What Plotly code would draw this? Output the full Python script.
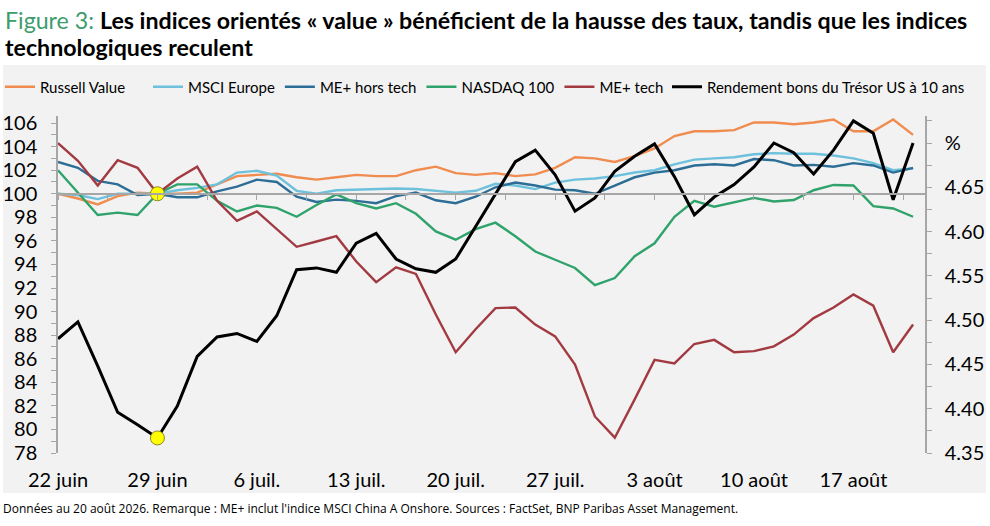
import plotly.graph_objects as go

# business days shown on the chart
dates = [
    "2026-06-22", "2026-06-23", "2026-06-24", "2026-06-25", "2026-06-26",
    "2026-06-29", "2026-06-30", "2026-07-01", "2026-07-02", "2026-07-03",
    "2026-07-06", "2026-07-07", "2026-07-08", "2026-07-09", "2026-07-10",
    "2026-07-13", "2026-07-14", "2026-07-15", "2026-07-16", "2026-07-17",
    "2026-07-20", "2026-07-21", "2026-07-22", "2026-07-23", "2026-07-24",
    "2026-07-27", "2026-07-28", "2026-07-29", "2026-07-30", "2026-07-31",
    "2026-08-03", "2026-08-04", "2026-08-05", "2026-08-06", "2026-08-07",
    "2026-08-10", "2026-08-11", "2026-08-12", "2026-08-13", "2026-08-14",
    "2026-08-17", "2026-08-18", "2026-08-19", "2026-08-20",
]
label_dates = ["2026-06-22", "2026-06-29", "2026-07-06", "2026-07-13", "2026-07-20",
               "2026-07-27", "2026-08-03", "2026-08-10", "2026-08-17"]
x_labels = ["22 juin", "29 juin", "6 juil.", "13 juil.", "20 juil.",
            "27 juil.", "3 août", "10 août", "17 août"]
base_date = "2026-06-29"

russell_value = [100.0, 99.6, 99.1, 99.8, 100.1, 100.0, 100.0, 100.1, 100.8, 101.5,
                 101.6, 101.7, 101.4, 101.2, 101.4, 101.6, 101.5, 101.5, 102.0, 102.3,
                 101.75, 101.6, 101.75, 101.5, 101.65, 102.2, 103.1, 103.0, 102.7, 103.2,
                 103.85, 104.9, 105.3, 105.3, 105.4, 106.05, 106.05, 105.9, 106.05, 106.3,
                 105.3, 105.3, 106.3, 105.0]
msci_europe = [100.0, 99.9, 99.55, 100.0, 100.0, 100.0, 100.3, 100.5, 100.8, 101.8,
               101.95, 101.55, 100.25, 100.0, 100.3, 100.35, 100.45, 100.45, 100.4, 100.25,
               100.1, 100.25, 100.85, 100.7, 100.4, 100.95, 101.2, 101.3, 101.5, 101.8,
               102.0, 102.5, 102.9, 103.0, 103.1, 103.35, 103.45, 103.4, 103.4, 103.25,
               103.0, 102.6, 102.0, 102.15]
me_ex_tech = [102.7, 102.2, 101.1, 100.8, 99.9, 100.0, 99.7, 99.7, 100.2, 100.6,
              101.2, 101.0, 99.75, 99.3, 99.5, 99.4, 99.2, 99.8, 100.1, 99.45,
              99.2, 99.75, 100.55, 100.95, 100.7, 100.35, 100.3, 100.0, 100.7, 101.4,
              101.8, 102.0, 102.4, 102.5, 102.4, 102.95, 102.85, 102.4, 102.45, 102.3,
              102.6, 102.4, 101.8, 102.2]
nasdaq_100 = [102.0, 100.1, 98.2, 98.4, 98.2, 100.0, 100.8, 100.8, 99.4, 98.5,
              99.0, 98.8, 98.05, 99.05, 99.95, 99.2, 98.75, 99.2, 98.3, 96.8,
              96.1, 97.0, 97.55, 96.4, 95.1, 94.4, 93.7, 92.25, 92.85, 94.7,
              95.8, 98.05, 99.4, 98.9, 99.25, 99.65, 99.35, 99.47, 100.3, 100.75,
              100.7, 98.95, 98.75, 98.05]
me_tech = [104.3, 102.8, 100.7, 102.85, 102.2, 100.0, 101.3, 102.3, 99.4, 97.7,
           98.5, 97.0, 95.5, 95.95, 96.4, 94.25, 92.5, 93.75, 93.2, 89.75,
           86.55, 88.5, 90.3, 90.35, 88.9, 87.9, 85.5, 81.1, 79.3, 82.55,
           85.9, 85.6, 87.25, 87.6, 86.55, 86.65, 87.05, 88.05, 89.45, 90.35,
           91.45, 90.5, 86.55, 88.9]
us_10y = [4.479, 4.498, 4.448, 4.396, 4.382, 4.367, 4.403, 4.459, 4.481, 4.485,
          4.476, 4.505, 4.557, 4.559, 4.554, 4.587, 4.598, 4.569, 4.558, 4.554,
          4.569, 4.606, 4.642, 4.679, 4.692, 4.664, 4.623, 4.638, 4.668, 4.685,
          4.699, 4.662, 4.619, 4.639, 4.653, 4.673, 4.700, 4.689, 4.665, 4.692,
          4.725, 4.711, 4.636, 4.700]

left_ticks = [78, 80, 82, 84, 86, 88, 90, 92, 94, 96, 98, 100, 102, 104, 106]
right_ticks = [4.35, 4.40, 4.45, 4.50, 4.55, 4.60, 4.65, 4.70]
right_labels = ["4.35", "4.40", "4.45", "4.50", "4.55", "4.60", "4.65", "%"]

FONT = "Lato"
AXIS_GREY = "#a6a6a6"
PANEL = "#f2f2f2"
W, H = 990, 526
L, R, T, B = 58, 65, 116, 73
PW, PH = W - L - R, H - T - B


def px_x(px):
    return (px - L) / PW


def px_y(py):
    return (H - B - py) / PH


idx = list(range(len(dates)))
base = dates.index(base_date)

series = [
    ("Russell Value", russell_value, "#F08C4F", "legend"),
    ("MSCI Europe", msci_europe, "#6EC1DC", "legend2"),
    ("ME+ hors tech", me_ex_tech, "#2C6E96", "legend2"),
    ("NASDAQ 100", nasdaq_100, "#2FA36B", "legend2"),
    ("ME+ tech", me_tech, "#A23A41", "legend2"),
]

fig = go.Figure()
for name, vals, color, leg in series:
    fig.add_trace(go.Scatter(x=idx, y=vals, mode="lines", name=name, legend=leg,
                             line=dict(color=color, width=2.4)))

# rebasing point (all indices = 100)
fig.add_trace(go.Scatter(x=[base], y=[russell_value[base]], mode="markers",
                         showlegend=False, hoverinfo="skip",
                         marker=dict(size=14, color="#ffff00",
                                     line=dict(color="#8a8a20", width=1))))

fig.add_trace(go.Scatter(x=idx, y=us_10y, mode="lines", yaxis="y2", legend="legend3",
                         name="Rendement bons du Trésor US à 10 ans",
                         line=dict(color="#000000", width=3)))
fig.add_trace(go.Scatter(x=[base], y=[us_10y[base]], mode="markers", yaxis="y2",
                         showlegend=False, hoverinfo="skip",
                         marker=dict(size=14, color="#ffff00",
                                     line=dict(color="#8a8a20", width=1))))

y_min, y_max = 78, 106.6
tick_font = dict(family=FONT, size=20, color="black")
# legends are placed in container pixels so they do not push the margins
legend_style = dict(orientation="h", xref="container", yref="container",
                    y=1 - 87 / H, xanchor="left", yanchor="middle",
                    font=dict(family=FONT, size=15, color="black"),
                    bgcolor="rgba(0,0,0,0)", itemwidth=30)

fig.update_layout(
    width=W, height=H, autosize=False,
    margin=dict(l=L, r=R, t=T, b=B),
    paper_bgcolor="white", plot_bgcolor=PANEL,
    font=dict(family=FONT, color="black"),
    showlegend=True,
    legend=dict(x=-6 / W, **legend_style),
    legend2=dict(x=148 / W, **legend_style),
    legend3=dict(x=667 / W, **legend_style),
    xaxis=dict(range=[0, 43.6], tickmode="array",
               tickvals=[dates.index(d) for d in label_dates], ticktext=x_labels,
               ticks="outside", ticklen=5, tickcolor=AXIS_GREY, tickwidth=1.2,
               showline=True, linecolor=AXIS_GREY, linewidth=1.5,
               anchor="free", position=(100 - y_min) / (y_max - y_min),
               ticklabelstandoff=263, automargin=False,
               minor=dict(dtick=2.5, tick0=0, ticks="outside", ticklen=5,
                          tickcolor=AXIS_GREY, tickwidth=1.2),
               showgrid=False, zeroline=False, tickfont=tick_font),
    yaxis=dict(range=[y_min, y_max], tickmode="array", tickvals=left_ticks,
               ticks="outside", ticklen=5, tickcolor=AXIS_GREY, tickwidth=1.2,
               showline=True, linecolor=AXIS_GREY, linewidth=1.5,
               minor=dict(dtick=1, tick0=78, ticks="outside", ticklen=5,
                          tickcolor=AXIS_GREY, tickwidth=1.2),
               ticklabelstandoff=10, automargin=False,
               showgrid=False, zeroline=False, tickfont=tick_font),
    yaxis2=dict(range=[4.35, 4.7305], overlaying="y", side="right",
                tickmode="array", tickvals=right_ticks, ticktext=right_labels,
                ticks="outside", ticklen=5, tickcolor=AXIS_GREY, tickwidth=1.2,
                showline=True, linecolor=AXIS_GREY, linewidth=1.5,
                minor=dict(dtick=0.025, tick0=4.35, ticks="outside", ticklen=5,
                           tickcolor=AXIS_GREY, tickwidth=1.2),
                ticklabelstandoff=9, automargin=False,
                showgrid=False, zeroline=False, tickfont=tick_font),
)

# grey panel behind the chart and legend
fig.add_shape(type="rect", xref="paper", yref="paper",
              x0=px_x(3), x1=px_x(986), y0=px_y(493), y1=px_y(65),
              fillcolor=PANEL, line=dict(width=0), layer="below")

fig.add_annotation(
    xref="paper", yref="paper", x=px_x(3), y=px_y(20),
    xanchor="left", yanchor="middle", showarrow=False,
    font=dict(family=FONT, size=23.2, color="black"),
    text="<span style='color:#3d9c6c'>Figure 3:</span> <b>Les indices orientés « value » "
         "bénéficient de la hausse des taux, tandis que les indices</b>")
fig.add_annotation(
    xref="paper", yref="paper", x=px_x(3), y=px_y(47),
    xanchor="left", yanchor="middle", showarrow=False,
    font=dict(family=FONT, size=23.2, color="black"),
    text="<b>technologiques reculent</b>")

fig.add_annotation(
    xref="paper", yref="paper", x=px_x(1), y=px_y(508),
    xanchor="left", yanchor="middle", showarrow=False,
    font=dict(family="Open Sans", size=12, color="black"),
    text="Données au 20 août 2026. Remarque : ME+ inclut l'indice MSCI China A Onshore. "
         "Sources : FactSet, BNP Paribas Asset Management.")

# drop the browser's default page margin so the figure fills the window
fig.write_html("out.html", config={"displayModeBar": False},
               post_script="document.body.style.margin = '0';")
